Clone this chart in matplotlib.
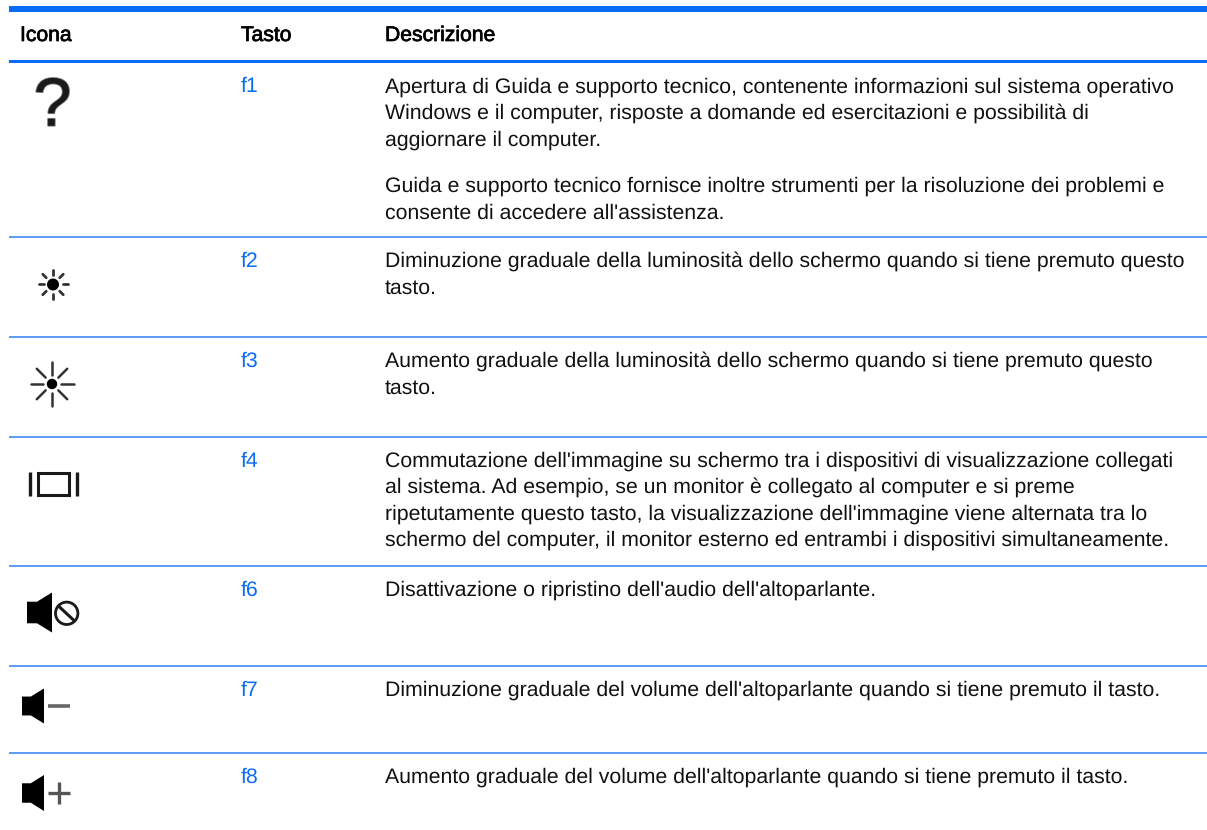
import numpy as np
import matplotlib
matplotlib.use("Agg")
import matplotlib.pyplot as plt
import matplotlib.patheffects as pe
from matplotlib.patches import Polygon, Circle, Rectangle

plt.rcParams['font.family'] = ['Liberation Sans', 'DejaVu Sans']
plt.rcParams['text.hinting'] = 'none'
plt.rcParams['text.hinting_factor'] = 8

BLUE = '#0A6CF5'
headers = ['Icona', 'Tasto', 'Descrizione']
keys = ['f1', 'f2', 'f3', 'f4', 'f6', 'f7', 'f8']
key_y = [92.5, 267, 367, 466.5, 595.5, 695.5, 782.5]
descriptions = [
    ["Apertura di Guida e supporto tecnico, contenente informazioni sul sistema operativo",
     "Windows e il computer, risposte a domande ed esercitazioni e possibilità di",
     "aggiornare il computer."],
    ["Diminuzione graduale della luminosità dello schermo quando si tiene premuto questo",
     "tasto."],
    ["Aumento graduale della luminosità dello schermo quando si tiene premuto questo",
     "tasto."],
    ["Commutazione dell'immagine su schermo tra i dispositivi di visualizzazione collegati",
     "al sistema. Ad esempio, se un monitor è collegato al computer e si preme",
     "ripetutamente questo tasto, la visualizzazione dell'immagine viene alternata tra lo",
     "schermo del computer, il monitor esterno ed entrambi i dispositivi simultaneamente."],
    ["Disattivazione o ripristino dell'audio dell'altoparlante."],
    ["Diminuzione graduale del volume dell'altoparlante quando si tiene premuto il tasto."],
    ["Aumento graduale del volume dell'altoparlante quando si tiene premuto il tasto."],
]
extra_par = ["Guida e supporto tecnico fornisce inoltre strumenti per la risoluzione dei problemi e",
             "consente di accedere all'assistenza."]
extra_y = 192
rule_y = [237.3, 336.8, 436.8, 566.2, 666, 752.5]

W, H = 1207, 830
fig = plt.figure(figsize=(W / 100, H / 100), dpi=100)
ax = fig.add_axes([0, 0, 1, 1])
ax.set_xlim(0, W)
ax.set_ylim(H, 0)
ax.axis('off')

X0, X1 = 8.5, W
COL = [20, 241, 385]
FS = 15.3
LH = 26.5

# rules
ax.add_patch(Rectangle((X0, 6), X1 - X0, 6, color=BLUE, lw=0))
ax.add_patch(Rectangle((X0, 60), X1 - X0, 3, color=BLUE, lw=0))
for y in rule_y:
    ax.plot([X0, X1], [y, y], color='#2F80F5', lw=1.1, solid_capstyle='butt')

# header
for x, h in zip(COL, headers):
    ax.text(x, 41, h, fontsize=15.2, color='black', va='baseline', ha='left',
            path_effects=[pe.withStroke(linewidth=0.5, foreground='black')])

# rows
for k, y, lines in zip(keys, key_y, descriptions):
    ax.text(COL[1], y, k, fontsize=FS, color=BLUE, va='baseline', ha='left')
    for i, t in enumerate(lines):
        ax.text(COL[2], y + i * LH, t, fontsize=FS, color='#111111', va='baseline', ha='left')
for i, t in enumerate(extra_par):
    ax.text(COL[2], extra_y + i * LH, t, fontsize=FS, color='#111111', va='baseline', ha='left')

# icons
ICON = '#1a1a1a'
ax.text(52.5, 108, '?', fontsize=49, color=ICON, ha='center', va='center',
        path_effects=[pe.withStroke(linewidth=1.4, foreground=ICON, alpha=0.6)])

def sun(cx, cy, r0, r1, core, lw):
    for a in np.arange(8) * np.pi / 4:
        ax.plot([cx + r0 * np.cos(a), cx + r1 * np.cos(a)],
                [cy + r0 * np.sin(a), cy + r1 * np.sin(a)],
                color='#333333', lw=lw, solid_capstyle='round')
    ax.add_patch(Circle((cx, cy), core, color='black', lw=0))

sun(53, 284.5, 9.5, 14.5, 6.0, 2.0)
sun(52, 384, 9, 21.5, 5.2, 1.8)

# display switch
ax.plot([30, 30], [472, 496], color=ICON, lw=2.4, solid_capstyle='butt')
ax.plot([77, 77], [472, 496], color=ICON, lw=2.4, solid_capstyle='butt')
ax.add_patch(Polygon([[38, 473], [69, 473], [69, 495], [38, 495]], closed=True,
                     fill=False, edgecolor=ICON, lw=2.2))

def speaker(x, cy, w, h):
    ax.add_patch(Polygon([[x, cy - h * 0.27], [x + w * 0.4, cy - h * 0.27], [x + w, cy - h / 2],
                          [x + w, cy + h / 2], [x + w * 0.4, cy + h * 0.27], [x, cy + h * 0.27]],
                         closed=True, color='black', lw=0))

speaker(27, 612.5, 25, 40)
ax.add_patch(Circle((66.7, 613.3), 11.2, fill=False, edgecolor=ICON, lw=2))
ax.plot([59, 74], [606.5, 620.5], color=ICON, lw=2.2)

speaker(22, 706, 22, 35)
ax.plot([48, 70], [706, 706], color='#666666', lw=2.6, solid_capstyle='butt')

speaker(22, 793, 22, 36)
ax.plot([48, 70], [793, 793], color='#555555', lw=2.4, solid_capstyle='butt')
ax.plot([59, 59], [782, 804], color='#555555', lw=2.4, solid_capstyle='butt')

fig.savefig('out.png', dpi=100, facecolor='white')
